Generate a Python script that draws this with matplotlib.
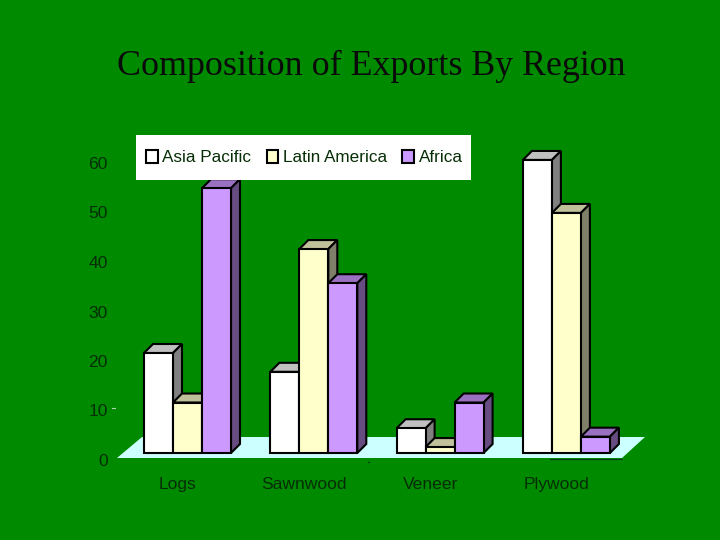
import matplotlib
matplotlib.use("Agg")
import matplotlib.pyplot as plt
from matplotlib.patches import Patch, Polygon, Rectangle

#数据
categories = ["Logs", "Sawnwood", "Veneer", "Plywood"]
series_names = ["Asia Pacific", "Latin America", "Africa"]
asia_pacific = [20.2, 16.4, 5.0, 59.2]
latin_america = [10.2, 41.2, 1.2, 48.5]
africa = [53.5, 34.3, 10.2, 3.3]
y_ticks = [0, 10, 20, 30, 40, 50, 60]

#颜色 front/top/side
front_colors = ["#FFFFFF", "#FFFFCC", "#CC99FF"]
top_colors = ["#C0C0C0", "#C0C09A", "#9A70C0"]
side_colors = ["#808080", "#80806A", "#664C80"]
bg = "#008A00"
text_color = "#062E06"
lw = 1.5

W, H = 720, 540
group_px = 126.3
unit_px = 4.95
x0_px, y0_px = 187.5, 453
bar_w = 29 / group_px
dx = 9 / group_px
dy = 9 / unit_px


def px_x(p):
    return (p - x0_px) / group_px


def px_y(p):
    return (y0_px - p) / unit_px


fig = plt.figure(figsize=(W / 100, H / 100), dpi=100, facecolor=bg)
plt.rcParams["font.family"] = ["Liberation Sans", "DejaVu Sans"]

ax = fig.add_axes([0, 0, 1, 1])
ax.set_xlim(px_x(0), px_x(W))
ax.set_ylim(px_y(H), px_y(0))
ax.axis("off")

#地板
floor = Polygon([(px_x(117), px_y(458)), (px_x(622), px_y(458)), (px_x(645), px_y(437)), (px_x(142), px_y(437))],
                closed=True, facecolor="#CCFFFF", edgecolor="none", zorder=1)
ax.add_patch(floor)
ax.plot([px_x(550), px_x(622)], [px_y(458.5), px_y(458.5)], color="#0A3A20", lw=0.8, zorder=1)
#原图里的小杂点
ax.plot([px_x(112), px_x(115)], [px_y(408), px_y(408)], color="#B0D0B0", lw=0.8, zorder=1)
ax.plot([px_x(368), px_x(369)], [px_y(462), px_y(462)], color="#0A3A20", lw=0.8, zorder=1)

all_series = [asia_pacific, latin_america, africa]
z = 2
for i in range(len(categories)):
    for s, values in enumerate(all_series):
        v = values[i]
        left = i + (s - 1.5) * bar_w
        right = left + bar_w
        top = Polygon([(left, v), (right, v), (right + dx, v + dy), (left + dx, v + dy)], closed=True,
                      facecolor=top_colors[s], edgecolor="black", lw=lw, joinstyle="miter", zorder=z)
        side = Polygon([(right, 0), (right + dx, dy), (right + dx, v + dy), (right, v)], closed=True,
                       facecolor=side_colors[s], edgecolor="black", lw=lw, joinstyle="miter", zorder=z)
        ax.add_patch(top)
        ax.add_patch(side)
        ax.bar(left, v, width=bar_w, align="edge", color=front_colors[s], edgecolor="black", lw=lw, zorder=z + 0.5)
        z += 1

#刻度标签单独一个坐标轴, 相对柱子有偏移
lab_left, lab_right, lab_top, lab_bottom = 112, 720, 163, 460
ax2 = fig.add_axes([lab_left / W, 1 - lab_bottom / H, (lab_right - lab_left) / W, (lab_bottom - lab_top) / H])
ax2.patch.set_visible(False)
for sp in ax2.spines.values():
    sp.set_visible(False)
ax2.set_ylim(0, 60)
ax2.set_xlim((lab_left - 178) / group_px, (lab_right - 178) / group_px)
ax2.set_yticks(y_ticks)
ax2.set_xticks(range(len(categories)))
ax2.set_xticklabels(categories)
ax2.tick_params(axis="both", length=0, labelsize=12.6, labelcolor=text_color)
ax2.tick_params(axis="x", pad=12)
ax2.tick_params(axis="y", pad=3)

#图例
ax.add_patch(Rectangle((136 / W, 1 - 180 / H), 335 / W, 45 / H, transform=ax.transAxes, facecolor="white",
                       edgecolor="none", zorder=99))
handles = [Patch(facecolor=front_colors[k], edgecolor="black", lw=lw) for k in range(3)]
leg = ax.legend(handles, series_names, ncol=3, loc="center left", bbox_to_anchor=(136 / W, 1 - 157.5 / H),
                frameon=False, fontsize=12.3, labelcolor=text_color, borderaxespad=0, handlelength=0.7,
                handleheight=0.85, handletextpad=0.25, columnspacing=0.9, borderpad=0.58)
leg.set_zorder(100)

fig.text(371 / W, 1 - 66 / H, "Composition of Exports By Region", family="Liberation Serif", fontsize=25.8,
         color="#0A0A0A", ha="center", va="center")

fig.savefig("out.png", dpi=100, facecolor=bg)
